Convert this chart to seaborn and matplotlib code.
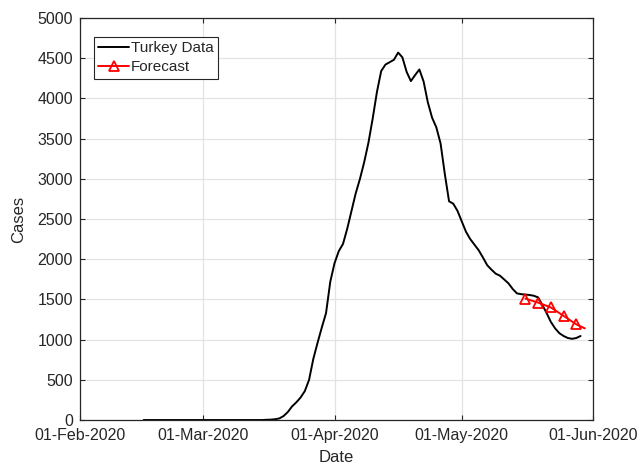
import numpy as np
import pandas as pd
import matplotlib
matplotlib.use("Agg")
import matplotlib.pyplot as plt
import matplotlib.dates as mdates
import seaborn as sns

# ---- data ----
data_start = "2020-02-16"
turkey_cases = [
    0, 0, 0, 0, 0, 0, 0, 0, 0, 0,          # Feb 16 - Feb 25
    0, 0, 0, 0, 0, 0, 0, 0, 0, 0,          # Feb 26 - Mar 6
    0, 0, 0, 0, 0, 0, 0, 0, 0,             # Mar 7 - Mar 15
    3, 5, 10, 20, 50, 100, 170, 220, 280, 360,     # Mar 16 - Mar 25
    500, 760, 960, 1150, 1330, 1720, 1950, 2100, 2190, 2380,  # Mar 26 - Apr 4
    2600, 2820, 3000, 3208, 3450, 3750, 4080, 4340, 4420, 4450,  # Apr 5 - Apr 14
    4480, 4570, 4510, 4330, 4215, 4290, 4360, 4210, 3950, 3760,  # Apr 15 - Apr 24
    3640, 3440, 3060, 2720, 2690, 2600, 2470, 2340, 2250, 2180,  # Apr 25 - May 4
    2110, 2020, 1925, 1870, 1820, 1795, 1748, 1700, 1630, 1575,  # May 5 - May 14
    1565, 1560, 1555, 1545, 1525, 1430, 1330, 1220, 1140, 1080,  # May 15 - May 24
    1045, 1020, 1010, 1020, 1045,                                # May 25 - May 29
]
forecast_dates = ["2020-05-16", "2020-05-19", "2020-05-22", "2020-05-25", "2020-05-28", "2020-05-30"]
forecast_cases = [1510, 1460, 1400, 1295, 1190, 1140]

xtick_dates = ["2020-02-01", "2020-03-01", "2020-04-01", "2020-05-01", "2020-06-01"]
yticks = list(range(0, 5001, 500))

# ---- build frames ----
dates = pd.date_range(data_start, periods=len(turkey_cases), freq="D")
df = pd.DataFrame({"Date": dates, "Cases": turkey_cases})
fdf = pd.DataFrame({"Date": pd.to_datetime(forecast_dates), "Cases": forecast_cases})

sns.set_style("white")
plt.rcParams["font.family"] = ["Liberation Sans", "DejaVu Sans"]

fig = plt.figure(figsize=(6.4, 4.67), dpi=100)
ax = fig.add_axes([0.125, 0.1006, 0.802, 0.8609])

sns.lineplot(data=df, x="Date", y="Cases", ax=ax, color="black", linewidth=1.4,
             label="Turkey Data")
sns.lineplot(data=fdf, x="Date", y="Cases", ax=ax, color="red", linewidth=1.4,
             marker="^", markersize=6.5, markerfacecolor="none", markeredgecolor="red",
             markeredgewidth=1.3, markevery=[0, 1, 2, 3, 4], label="Forecast")

ax.set_xlim(pd.Timestamp("2020-02-01"), pd.Timestamp("2020-06-01"))
ax.set_ylim(0, 5000)
ax.set_xticks(pd.to_datetime(xtick_dates))
ax.xaxis.set_major_formatter(mdates.DateFormatter("%d-%b-%Y"))
ax.set_yticks(yticks)

ax.grid(True, color="#e3e3e3", linewidth=0.9)
ax.set_axisbelow(True)
for s in ax.spines.values():
    s.set_color("#262626")
    s.set_linewidth(0.9)
    s.set_visible(True)
ax.tick_params(direction="in", length=3.5, width=0.8, color="#262626",
               labelsize=11.5, labelcolor="#262626", top=True, right=True,
               bottom=True, left=True)
ax.tick_params(axis="x", pad=6)
ax.tick_params(axis="y", pad=5)
ax.set_xlabel("Date", fontsize=12, color="#262626", labelpad=5)
ax.set_ylabel("Cases", fontsize=12, color="#262626", labelpad=8)

leg = ax.legend(loc="upper left", bbox_to_anchor=(0.027, 0.953), fontsize=11,
                frameon=True, fancybox=False, framealpha=1, edgecolor="#262626",
                borderpad=0.3, handlelength=2.0, handletextpad=0.1,
                labelspacing=0.3, borderaxespad=0)
leg.get_frame().set_linewidth(0.8)

fig.savefig("out.png", dpi=100, facecolor="white")
